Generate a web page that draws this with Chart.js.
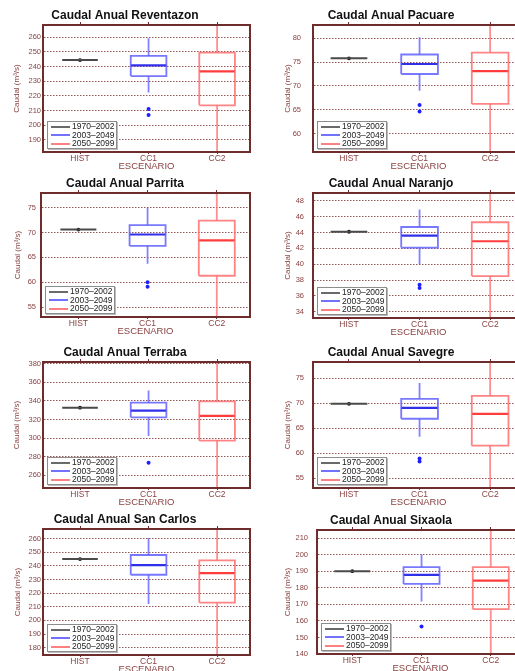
<!DOCTYPE html>
<html><head><meta charset="utf-8">
<script src="https://cdn.jsdelivr.net/npm/chart.js@4/dist/chart.umd.min.js"></script>
<style>
html,body{margin:0;padding:0;background:#fff;width:515px;height:671px;overflow:hidden;position:relative;font-family:"Liberation Sans",Arial,sans-serif}
canvas{position:absolute}
.lg{position:absolute;background:#fff;border:1px solid #8c8c8c;box-shadow:1px 1px 0 #bbb;box-sizing:border-box;font:8.5px "Liberation Sans",Arial,sans-serif;color:#222;padding:0 0 0 3px}
.lg div{height:8.7px;line-height:8.7px;white-space:nowrap}
.lg span{display:inline-block;width:19px;height:0;vertical-align:middle;margin-right:2px;border-top:2px solid}
</style></head><body>
<script>
// ---------- data ----------
const rivers = ['Reventazon','Pacuare','Parrita','Naranjo','Terraba','Savegre','San Carlos','Sixaola'];
const scenarios = ['HIST','CC1','CC2'];
const periods = ['1970\u20132002','2003\u20132049','2050\u20132099'];
const histValue  = [244.5, 75.8, 70.6, 44.1, 332.7, 69.9, 245.0, 190.1];
const cc1Low     = [222.3, 69.0, 63.7, 40.0, 302.3, 63.3, 212.1, 171.8];
const cc1Q1      = [233.6, 72.5, 67.3, 42.1, 322.3, 66.9, 233.5, 182.4];
const cc1Median  = [240.9, 74.6, 69.6, 43.6, 329.5, 69.1, 240.6, 187.9];
const cc1Q3      = [247.3, 76.6, 71.5, 44.7, 338.1, 70.9, 248.0, 192.5];
const cc1High    = [259.3, 80.2, 75.0, 46.9, 351.3, 74.1, 260.5, 200.3];
const cc1Outliers = [[211.1,207.0],[66.0,64.6],[60.0,59.1],[37.4,37.0],[273.6],[58.9,58.3],[],[156.7]];
const cc2Low     = [175, 54, 51, 32, 240, 51, 170, 136];
const cc2Q1      = [213.6, 66.2, 61.3, 38.5, 297.3, 61.5, 213.1, 167.1];
const cc2Median  = [236.8, 73.1, 68.4, 42.9, 323.8, 67.9, 234.7, 184.4];
const cc2Q3      = [249.5, 77.0, 72.4, 45.3, 339.5, 71.5, 244.0, 192.5];
const cc2High    = [275, 85, 80, 51, 390, 80, 272, 220];
const yMin = [181.8, 56.1, 53.0, 33.2, 246.4, 53.0, 174.6, 140];
const yMax = [268.4, 82.8, 77.95, 49.0, 381.8, 78.3, 267.1, 215];
const yTicks = [
  [190,200,210,220,230,240,250,260],
  [60,65,70,75,80],
  [55,60,65,70,75],
  [34,36,38,40,42,44,46,48],
  [260,280,300,320,340,360,380],
  [55,60,65,70,75],
  [180,190,200,210,220,230,240,250,260],
  [140,150,160,170,180,190,200,210]
];

// ---------- layout (page pixels) ----------
const layout = [
  {col:0, L:43,  T:25,  B:152, labR:41,  titX:17,   cx:148},
  {col:1, L:313, T:25,  B:152, labR:301, titX:288,  cx:420},
  {col:0, L:41,  T:193, B:317, labR:36,  titX:18,   cx:146},
  {col:1, L:313, T:193, B:318, labR:304, titX:288,  cx:418},
  {col:0, L:43,  T:362, B:488, labR:41,  titX:17,   cx:149},
  {col:1, L:313, T:362, B:488, labR:304, titX:288,  cx:420},
  {col:0, L:43,  T:529, B:655, labR:41,  titX:17.5, cx:148},
  {col:1, L:317, T:530, B:654, labR:308, titX:288,  cx:421}
];
const colX = [{xMin:0.46, xMax:3.48, R:250, left:0}, {xMin:0.49, xMax:3.48, R:524, left:258}];

const FONT = '"Liberation Sans", Arial, sans-serif';
const FRAME = '#6e2c2c';
const BROWN = '#8a4242';
const GRID = 'rgba(125,45,45,0.8)';
const HW = 0.26;
const C = {
  hist:'#4a4a4a',
  blueBox:'rgba(85,85,255,0.8)', blueMed:'#3030e8', blueW:'rgba(100,100,255,0.8)', blueOut:'#2020ff',
  redBox:'rgba(255,100,100,0.8)', redMed:'#ff3c3c', redW:'rgba(255,115,115,0.8)'
};

function seg(points, color, width){
  return {type:'line', data:points, borderColor:color, borderWidth:width, pointRadius:0, fill:false, tension:0, clip:0, spanGaps:false};
}
function box(x, lo, q1, med, q3, hi, cBox, cMed, cW){
  return [
    seg([{x:x,y:q3},{x:x,y:hi},{x:x,y:null},{x:x,y:q1},{x:x,y:lo}], cW, 1.8),
    seg([{x:x-HW,y:q1},{x:x+HW,y:q1},{x:x+HW,y:q3},{x:x-HW,y:q3},{x:x-HW,y:q1}], cBox, 1.8),
    seg([{x:x-HW,y:med},{x:x+HW,y:med}], cMed, 2.2)
  ];
}

rivers.forEach((river, i) => {
  const p = layout[i], cc = colX[p.col];
  const cLeft = cc.left;
  const cWidth = 2 * (p.cx - cLeft);
  const cTop = p.T - 24;
  const cHeight = (p.B + 20) - cTop;
  const padR = cLeft + cWidth - cc.R;

  const cv = document.createElement('canvas');
  cv.width = cWidth; cv.height = cHeight;
  cv.style.left = cLeft + 'px'; cv.style.top = cTop + 'px';
  cv.style.width = cWidth + 'px'; cv.style.height = cHeight + 'px';
  document.body.appendChild(cv);

  const datasets = [
    seg([{x:1-HW,y:histValue[i]},{x:1+HW,y:histValue[i]}], C.hist, 2),
    {type:'line', data:[{x:1,y:histValue[i]}], showLine:false, pointRadius:1.9, pointBackgroundColor:'#111', pointBorderWidth:0, clip:0},
    ...box(2, cc1Low[i], cc1Q1[i], cc1Median[i], cc1Q3[i], cc1High[i], C.blueBox, C.blueMed, C.blueW),
    {type:'line', data:cc1Outliers[i].map(v=>({x:2,y:v})), showLine:false, pointRadius:2, pointBackgroundColor:C.blueOut, pointBorderWidth:0, clip:0},
    ...box(3, cc2Low[i], cc2Q1[i], cc2Median[i], cc2Q3[i], cc2High[i], C.redBox, C.redMed, C.redW)
  ];

  const catTicks = s => { s.ticks = [1,2,3].map(v => ({value:v})); };
  new Chart(cv, {
    type:'line',
    data:{datasets},
    options:{
      responsive:false, animation:false, devicePixelRatio:1,
      layout:{padding:{left:0, right:padR, top:0, bottom:0}},
      plugins:{
        legend:{display:false}, tooltip:{enabled:false},
        title:{display:true, text:'Caudal Anual ' + river, color:'#111',
          font:{family:FONT, size:12, weight:'bold', lineHeight:1.2}, padding:{top:7, bottom:2.6}}
      },
      scales:{
        x:{type:'linear', position:'bottom', min:cc.xMin, max:cc.xMax,
          afterBuildTicks:catTicks,
          afterFit:s => { s.height = 20; },
          ticks:{callback:v => scenarios[Math.round(v)-1], font:{family:FONT, size:8.5, lineHeight:1}, color:BROWN, padding:0, maxRotation:0, autoSkip:false},
          grid:{drawOnChartArea:false, drawTicks:true, tickLength:2, color:FRAME},
          border:{color:FRAME, width:2, z:1},
          title:{display:true, text:'ESCENARIO', color:BROWN, font:{family:FONT, size:9.5, lineHeight:1}, padding:{top:0, bottom:1.2}}
        },
        xTop:{type:'linear', position:'top', min:cc.xMin, max:cc.xMax,
          afterBuildTicks:catTicks,
          afterFit:s => { s.height = 0; },
          ticks:{display:false},
          grid:{drawOnChartArea:false, drawTicks:true, tickLength:3, color:FRAME},
          border:{color:FRAME, width:2, z:1}
        },
        y:{type:'linear', position:'left', min:yMin[i], max:yMax[i],
          afterBuildTicks:s => { s.ticks = yTicks[i].map(v => ({value:v})); },
          afterFit:s => { s.width = p.L - cLeft; },
          ticks:{font:{family:FONT, size:7.5}, color:BROWN, padding:p.L - p.labR},
          grid:{color:GRID, lineWidth:1, drawTicks:false},
          border:{color:FRAME, width:2, z:1, dash:[1.5,1.5]},
          title:{display:true, text:'Caudal (m\u00B3/s)', color:BROWN, font:{family:FONT, size:8, lineHeight:1}, padding:{top:p.titX - cLeft - 4, bottom:0}}
        },
        yR:{type:'linear', position:'right', min:yMin[i], max:yMax[i],
          afterFit:s => { s.width = 0; },
          ticks:{display:false},
          grid:{display:false, drawTicks:false},
          border:{color:FRAME, width:2, z:1}
        }
      }
    }
  });

  const lg = document.createElement('div');
  lg.className = 'lg';
  lg.style.left = (p.L + 4) + 'px';
  lg.style.top = (p.B - 31) + 'px';
  lg.style.width = '70px';
  lg.style.height = '28px';
  const lcol = ['#6a6a6a', '#7272ff', '#ff8080'];
  lg.innerHTML = periods.map((t, k) => '<div><span style="border-color:' + lcol[k] + '"></span>' + t + '</div>').join('');
  document.body.appendChild(lg);
});
</script>
</body></html>
